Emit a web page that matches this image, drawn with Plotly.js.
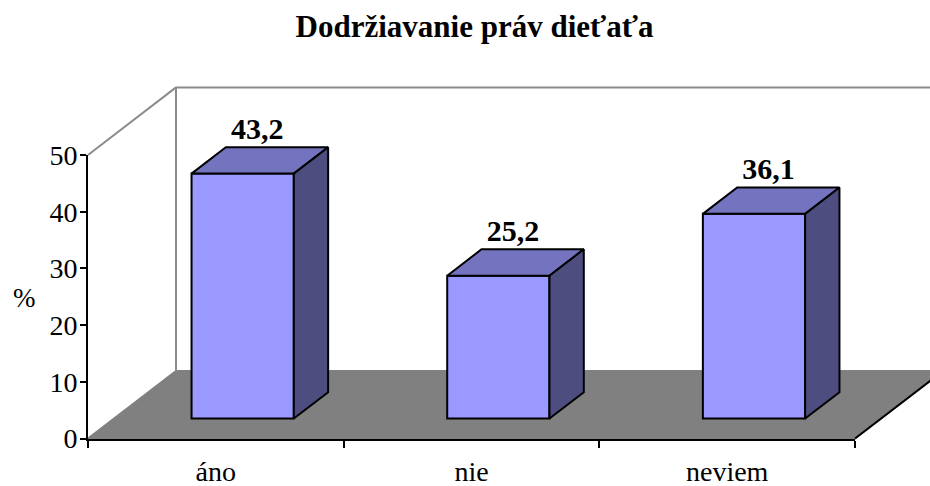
<!DOCTYPE html>
<html><head><meta charset="utf-8">
<script src="https://cdn.plot.ly/plotly-3.0.1.min.js"></script>
<style>html,body{margin:0;padding:0;background:#fff}#c{width:930px;height:486px}</style>
</head><body><div id="c"></div>
<script>
const categories = ['áno', 'nie', 'neviem'];
const values = [43.2, 25.2, 36.1];
const yTicks = [0, 10, 20, 30, 40, 50];
const titleText = 'Dodržiavanie práv dieťaťa';

// page size and position of the front plane of the chart (pixels)
const W = 930, H = 486, pxLeft = 88, pxRight = 855, pxBottom = 438.5, pxTop = 155;
const xUnit = (pxRight - pxLeft) / categories.length, yUnit = (pxBottom - pxTop) / 50;
const depthX = 88 / xUnit, depthY = 67.6 / yUnit;      // oblique depth of the box
const barW = 0.40, barStartX = 0.305, barStartY = 0.295, barDepth = 0.39;  // bar shape as fractions
const FONT = '"Liberation Serif","Times New Roman",serif';

const xs = categories.map((_, i) => i + barStartX * depthX);
const base = barStartY * depthY;
const dx = barDepth * depthX, dy = barDepth * depthY;

const topX = [], topY = [], sideX = [], sideY = [];
values.forEach((v, i) => {
  const l = xs[i] - barW / 2, r = xs[i] + barW / 2, t = base + v;
  topX.push(l, r, r + dx, l + dx, l, null);
  topY.push(t, t, t + dy, t + dy, t, null);
  sideX.push(r, r + dx, r + dx, r, r, null);
  sideY.push(base, base + dy, t + dy, t, base, null);
});

const x0 = -0.5, x1 = categories.length - 0.5;
const traces = [
  {type: 'scatter', mode: 'lines', x: [x0, x1, x1 + depthX, x0 + depthX, x0], y: [0, 0, depthY, depthY, 0],
   fill: 'toself', fillcolor: '#808080', line: {color: '#808080', width: 2}, hoverinfo: 'skip', xaxis: 'x', yaxis: 'y'},
  {type: 'scatter', mode: 'lines', x: [x0, x0 + depthX, x0 + depthX, null, x0 + depthX, x1 + depthX],
   y: [50, 50 + depthY, depthY, null, 50 + depthY, 50 + depthY],
   line: {color: '#8c8c8c', width: 2}, hoverinfo: 'skip', xaxis: 'x', yaxis: 'y'},
  {type: 'scatter', mode: 'lines', x: [x1, x1 + depthX], y: [0, depthY],
   line: {color: '#000', width: 2}, hoverinfo: 'skip', xaxis: 'x', yaxis: 'y'},
  {type: 'bar', x: xs, y: values, base: base, width: barW, marker: {color: '#9999FF', line: {color: '#000', width: 2}},
   hoverinfo: 'skip', xaxis: 'x2', yaxis: 'y2'},
  {type: 'scatter', mode: 'lines', x: topX, y: topY, fill: 'toself', fillcolor: '#7373BF',
   line: {color: '#000', width: 2}, hoverinfo: 'skip', xaxis: 'x2', yaxis: 'y2'},
  {type: 'scatter', mode: 'lines', x: sideX, y: sideY, fill: 'toself', fillcolor: '#4D4D80',
   line: {color: '#000', width: 2}, hoverinfo: 'skip', xaxis: 'x2', yaxis: 'y2'},
  {type: 'scatter', mode: 'text', x: xs.map(v => v + dx / 2 - 0.01), y: values.map(v => v + base + dy + 0.2),
   text: values.map(v => String(v).replace('.', ',')), textposition: 'top center',
   textfont: {family: FONT, size: 30, color: '#000', weight: 700}, hoverinfo: 'skip', xaxis: 'x2', yaxis: 'y2'},
  {type: 'scatter', mode: 'none', x: categories, y: values, hoverinfo: 'skip', xaxis: 'x3', yaxis: 'y3'}
];

const fullX = [-0.5 - pxLeft / xUnit, -0.5 + (W - pxLeft) / xUnit];
const fullY = [(pxBottom - H) / yUnit, pxBottom / yUnit];
const layout = {
  width: W, height: H, margin: {l: 0, r: 0, t: 0, b: 0}, showlegend: false,
  paper_bgcolor: '#fff', plot_bgcolor: 'rgba(0,0,0,0)', font: {family: FONT, color: '#000'},
  title: {text: '<b>' + titleText + '</b>', x: 474.5 / W, xanchor: 'center', y: 1 - 26 / H, yanchor: 'middle',
          font: {family: FONT, size: 31, color: '#000'}},
  xaxis: {domain: [0, 1], range: fullX, visible: false, fixedrange: true},
  yaxis: {domain: [0, 1], range: fullY, visible: false, fixedrange: true},
  xaxis2: {domain: [0, 1], range: fullX, anchor: 'y2', visible: false, fixedrange: true},
  yaxis2: {domain: [0, 1], range: fullY, anchor: 'x2', visible: false, fixedrange: true},
  xaxis3: {domain: [pxLeft / W, pxRight / W], anchor: 'y3', type: 'category', categoryorder: 'array', categoryarray: categories,
           range: [-0.5, categories.length - 0.5], tickson: 'boundaries', ticks: 'outside', ticklen: 7, tickwidth: 2, tickcolor: '#000',
           showline: true, linecolor: '#000', linewidth: 2, showgrid: false, zeroline: false,
           tickfont: {family: FONT, size: 28, color: '#000'}, ticklabelstandoff: 7, fixedrange: true},
  yaxis3: {domain: [(H - pxBottom) / H, (H - pxTop) / H], anchor: 'x3', range: [0, 50], tickvals: yTicks, ticktext: yTicks.map(String),
           ticks: 'outside', ticklen: 6, tickwidth: 2, tickcolor: '#000', showline: true, linecolor: '#000', linewidth: 2,
           showgrid: false, zeroline: false, tickfont: {family: FONT, size: 28, color: '#000'}, ticklabelstandoff: -3, fixedrange: true},
  annotations: [{text: '%', xref: 'paper', yref: 'paper', x: 24.5 / W, y: 1 - 298 / H, xanchor: 'center', yanchor: 'middle',
                 showarrow: false, font: {family: FONT, size: 27, color: '#000'}}]
};
Plotly.newPlot('c', traces, layout, {displayModeBar: false, staticPlot: true});
</script></body></html>
